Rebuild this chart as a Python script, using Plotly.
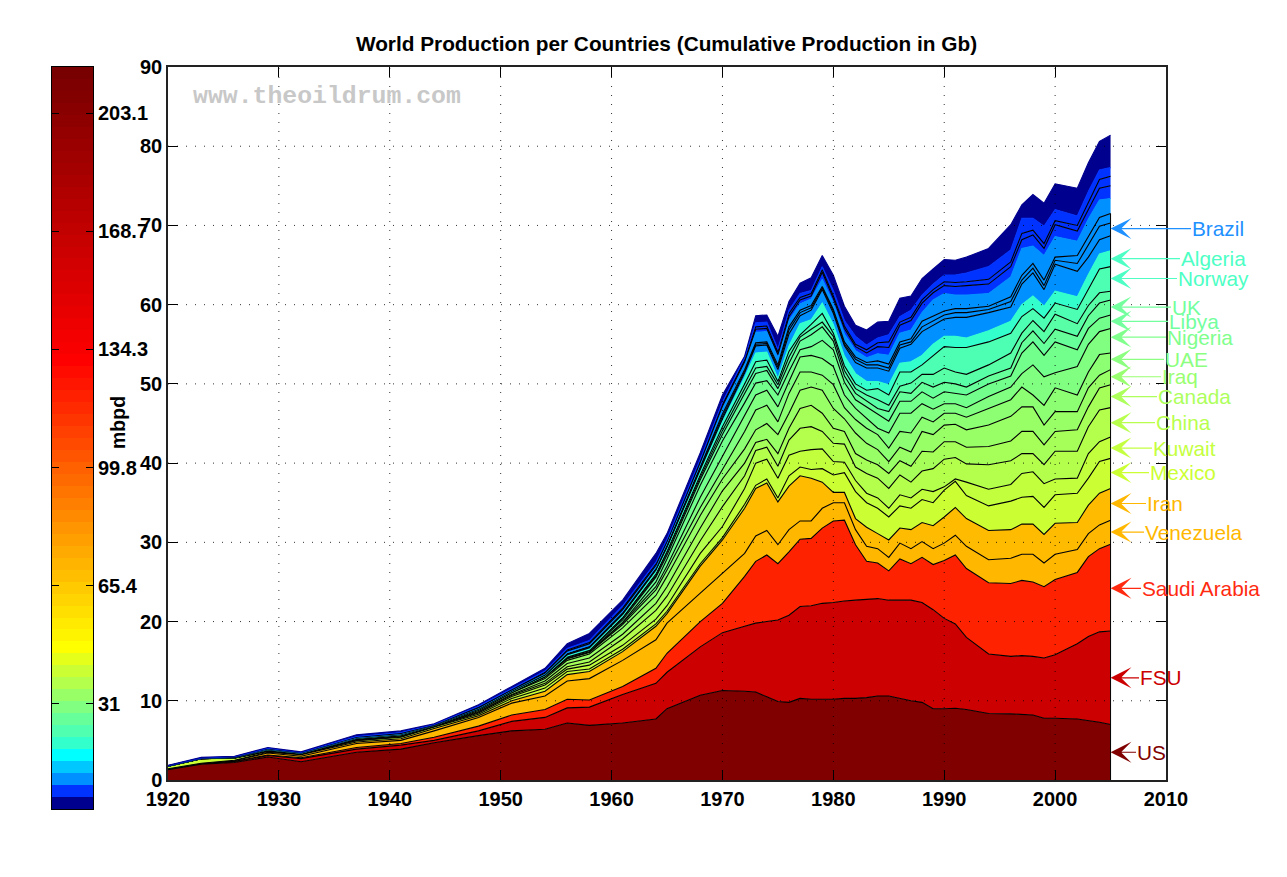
import plotly.graph_objects as go

W, H = 1287, 877

YEARS = [1920,1923,1926,1929,1932,1937,1941,1944,1948,1951,1954,1956,1958,1961,1964,1965,1968,1970,1972,1973,1974,1975,1976,1977,1978,1979,1980,1981,1982,1983,1984,1985,1986,1987,1988,1989,1990,1991,1992,1994,1996,1997,1998,1999,2000,2002,2003,2004,2005]

# Upper edge of each band in the stack (Gb)
US = [1.3,2.0,2.2,2.9,2.3,3.5,3.9,4.7,5.6,6.2,6.4,7.2,6.9,7.2,7.7,9.0,10.7,11.3,11.2,11.1,10.5,9.9,9.8,10.3,10.2,10.2,10.2,10.3,10.3,10.4,10.6,10.6,10.3,10.0,9.8,9.0,9.0,9.05,8.9,8.4,8.35,8.3,8.2,7.8,7.8,7.7,7.5,7.3,7.0]
FSU = [1.35,2.05,2.3,3.1,2.7,3.9,4.4,5.0,6.2,7.4,7.9,9.1,9.2,10.8,12.2,13.6,16.8,18.6,19.4,19.8,20.0,20.2,20.8,21.9,22.0,22.3,22.4,22.6,22.7,22.8,22.9,22.7,22.7,22.7,22.4,21.5,20.4,19.7,18.0,15.9,15.6,15.7,15.6,15.4,15.8,17.2,18.1,18.7,18.8]
SAUDI = [1.37,2.08,2.35,3.15,2.8,4.1,4.6,5.4,6.8,8.2,8.9,10.2,10.1,11.8,14.1,16,20,22.3,25.7,27.6,28.4,27.3,28.8,30.4,30.5,31.8,32.7,32.8,29.7,27.6,27.4,26.4,27.9,27.3,28.1,27.2,27.7,28.4,26.7,24.9,24.8,25.2,25.0,24.4,25.3,26.2,28.2,29.2,29.75]
VENEZUELA = [1.4,2.1,2.45,3.4,3.0,4.6,5.0,6.2,7.9,9.7,10.6,12.5,12.8,15.1,17.7,19.8,23.6,26.1,28.6,30.8,31.5,29.7,31.6,32.7,32.7,34.3,35,35,31.6,29.5,29.2,28.1,29.9,29.2,30.1,29.2,29.9,30.9,29.5,27.8,28,28.5,28.5,27.4,28.5,29.1,31.1,32.2,32.8]
IRAN = [1.42,2.12,2.5,3.5,3.2,4.8,5.2,6.5,8.1,10.0,11.2,13.3,13.7,16.2,19.4,21,27,30.3,34.3,36.8,37.5,35.1,37.1,38.4,38.1,37.6,36.3,36.3,33,31.9,31.1,30.3,31.8,31.6,32.5,32.1,33.2,34.4,33,31.5,31.6,32.3,32.3,31,32.4,32.5,34.7,36.2,36.8]
MEXICO = [1.72,2.68,2.75,3.6,3.25,4.95,5.4,6.7,8.3,10.3,11.6,13.7,14.0,16.5,19.7,21.3,27.3,30.6,34.8,37.2,38.0,35.6,38.4,39.5,39.2,39.3,38.5,38.8,36.4,35,34.3,33.2,34.6,34.3,35.4,35,36.6,37.7,35.9,34.6,35.2,35.7,35.8,34.4,36,36.2,38.1,40.2,40.6]
KUWAIT = [1.73,2.69,2.77,3.65,3.28,5.0,5.45,6.74,8.45,10.55,12,14,14.5,17,20.3,22,28.6,32,36.8,40,40.5,38.1,41,41.5,41.7,41.8,40.2,40.1,37.8,36.2,35.6,34.3,36,35.6,36.7,36.4,37,38,37.6,36.7,37.3,38.7,38.9,37.4,38,38.1,41.2,42.7,43.3]
CHINA = [1.74,2.69,2.78,3.68,3.3,5.05,5.5,6.76,8.55,10.7,12.2,14.3,14.9,17.8,21.4,23.2,30.2,34.5,38.4,41.6,42,39.6,42.9,44.4,44.6,44,42.5,42.4,39.5,38.7,38.1,36.8,38.5,37.6,39,39.3,40.5,40.7,39.9,39.8,40.3,41.2,41.2,39.8,41.5,41.5,44.6,46.7,47]
CANADA = [1.74,2.70,2.79,3.72,3.33,5.1,5.55,6.8,8.65,10.8,12.5,14.7,15.4,18.4,22.3,24.4,31.8,36.5,40,42.6,43,41.2,44.4,46.9,47.3,46.3,44.4,44,41.2,40.4,39.8,38.7,40.3,39.6,41.5,41.4,42.7,42.7,42,42.1,42.8,44,44,42.3,44,44.2,47.1,49.5,49.9]
IRAQ = [1.74,2.70,2.80,3.78,3.36,5.2,5.65,6.84,8.8,11,12.8,15.1,15.9,19.2,23.3,25.7,33.4,38,41.8,44.2,45,43.6,46.3,49.2,49.6,49.2,46.9,45.6,43.8,42.5,41.7,40.2,42,41.4,44,43.6,44.8,44.9,44.2,44.8,45.9,47.1,47.1,44.8,46.5,46.5,49.5,51.1,51.8]
UAE = [1.75,2.70,2.80,3.8,3.37,5.25,5.7,6.86,8.85,11.05,13,15.3,16.1,19.6,24,26.5,34.4,39.2,44,46.7,47.3,45.2,48.8,51.5,51.5,51.1,49.9,47.0,45.5,44.4,43.6,41.9,44,43.8,45.8,45.2,46.3,46.3,45.8,46.9,48,49.6,48.6,47.3,49.5,48.6,51.5,53.7,53.9]
NIGERIA = [1.75,2.70,2.80,3.8,3.37,5.25,5.7,6.86,8.86,11.08,13.03,15.35,16.15,19.8,24.4,27,35.7,40.8,46,48.6,49.2,47.1,50.3,53.4,53.6,53.2,52.2,48.6,46.9,45.6,44.4,43.8,46.3,46.3,47.5,46.8,47.5,47.5,47,48.4,49.6,51.3,52.4,50.9,51.4,52.2,55,56.6,57]
LIBYA = [1.75,2.71,2.81,3.81,3.38,5.26,5.71,6.87,8.87,11.1,13.06,15.4,16.2,19.9,25,27.9,37.2,42.8,47.6,50.1,50.4,48.6,51.6,54.3,54.7,55.5,54.3,50.2,48,47.1,46.1,45.3,47.8,47.8,49,48.2,49,48.8,48.6,50,51,53.9,55.3,53.6,55.3,54.3,57,58.3,58.7]
UK = [1.75,2.71,2.81,3.81,3.38,5.26,5.71,6.87,8.88,11.12,13.1,15.5,16.3,20.2,25.6,28.4,37.9,43.6,48.8,51.3,51.7,49.4,52.6,55.4,56.2,57.2,55.4,51,48.8,47.9,46.9,46.5,49,48.8,50.2,49.6,50.2,50,49.6,51,52,55.2,56.7,55.1,56.9,56,58.6,60.2,60.6]
OTHER_A = [1.75,2.71,2.81,3.82,3.38,5.27,5.72,6.88,8.89,11.14,13.13,15.55,16.4,20.4,25.8,28.7,38.2,44.1,49.4,52,52.2,49.9,53.4,55.9,56.9,57.8,56,51.7,49.4,48.6,48,47.3,49.7,50.1,51.2,51.2,52,51.5,51.2,52.4,53.9,56.4,58,56.6,58.8,57.6,59.9,61.5,61.7]
NORWAY = [1.75,2.71,2.81,3.82,3.38,5.27,5.72,6.88,8.9,11.16,13.15,15.6,16.45,20.5,26,28.9,38.5,44.6,50,52.8,53,50.3,54.1,56.2,57.5,58.9,56.4,52.3,50,49.2,49.4,48.6,51.5,51.5,52.4,53.5,54.7,54.6,54.6,55.3,56.4,58.5,59.5,58.3,60.2,59.4,61.9,64.5,64.8]
ALGERIA = [1.75,2.71,2.82,3.83,3.39,5.28,5.73,6.89,8.92,11.18,13.18,15.65,16.5,20.7,26.3,29.2,38.9,45.2,50.8,53.9,54,50.7,54.8,57.6,58.1,60.2,57.5,53.5,51.3,50.3,50.3,49.9,52.6,52.8,53.6,55,56,56,55.8,56.7,57.9,60,61.1,59.8,61.7,61,63.8,66.4,66.8]
OTHER_B = [1.76,2.72,2.83,3.85,3.4,5.3,5.76,6.9,8.95,11.22,13.25,15.8,16.7,20.9,26.5,29.4,39.2,45.6,51.4,54.8,54.9,51.8,56.3,58.6,59.3,61.9,58.9,54.8,52.7,52,52,51.6,54.5,55,56.6,57.4,58.2,58.4,58.4,59,59.7,62.6,64,61.9,65.1,64.2,66,68.2,68.7]
BRAZIL = [1.76,2.72,2.84,3.86,3.41,5.31,5.77,6.91,8.97,11.24,13.28,15.9,16.8,21,26.6,29.5,39.4,45.9,51.6,55,55.1,52.1,56.8,59,59.6,62.1,59.2,55,53.1,52.4,52.4,52,54.9,55.3,57.2,57.9,58.7,59,59,59.4,60.4,63.1,64.6,62.4,65.6,65.2,67.5,69.9,70.3]
OTHER_C = [1.76,2.72,2.85,3.87,3.42,5.32,5.78,6.92,8.99,11.26,13.3,15.95,16.85,21.1,26.7,29.6,39.5,46.2,51.8,55.2,55.3,52.4,57.2,59.3,59.9,62.3,59.4,55.3,53.4,52.7,52.9,52.5,55.3,55.7,57.9,58.5,59.2,59.5,59.5,59.8,61,63.7,65.2,63.1,66,66.2,68.6,71,71.5]
OTHER_D = [1.77,2.73,2.87,3.9,3.43,5.35,5.82,6.94,9.05,11.32,13.4,16.1,17,21.3,26.9,29.9,39.9,46.9,52.5,56.5,56.6,53.3,58,60.1,60.7,63.2,60.2,56.3,54.2,53.3,53.8,53.6,56.4,56.8,59,60.6,61.4,61.2,61.2,61.4,63.5,67.1,67.4,66.2,68.6,68,70.8,73.2,73.4]
OTHER_E = [1.78,2.75,2.89,3.94,3.44,5.4,5.88,6.96,9.12,11.4,13.5,16.3,17.2,21.5,27.1,30.1,40.1,47.2,52.8,56.9,57,53.7,58.5,60.6,61.1,64.1,60.8,57,54.7,53.9,54.7,54.6,57.4,58,60.2,61.5,62.4,62.3,62.4,62.6,64.8,68.2,68.8,67.1,70.1,69.3,72,74.7,75]
OTHER_F = [1.79,2.77,2.91,3.97,3.45,5.45,5.94,6.98,9.2,11.45,13.6,16.4,17.35,21.7,27.3,30.2,40.3,47.4,53,57.2,57.3,54,58.9,60.9,61.4,64.4,61.1,57.3,55,54.3,55.2,55.3,57.8,58.4,60.6,61.9,62.9,62.8,62.9,63.2,65.4,69,69.4,67.7,70.6,70,73,75.8,76.2]
OTHER_G = [1.80,2.79,2.93,4.0,3.47,5.5,6.0,7.0,9.3,11.55,13.75,16.6,17.6,22,27.5,30.4,40.5,47.7,53.3,57.7,57.8,54.4,59.3,61.4,61.8,64.8,61.8,58,56,54.9,55.8,56.2,58.5,59.3,61.2,62.6,63.75,63.75,64,64.8,66.9,70.9,70.9,69.9,72,71.2,74.3,77,77.3]
TOTAL = [1.85,2.85,3.0,4.1,3.55,5.7,6.2,7.1,9.5,11.8,14.1,17.2,18.5,22.7,28.6,31.1,41.3,48.6,53.5,58.6,58.7,56,60.4,62.7,63.4,66.2,63.7,59.8,57.4,56.8,57.8,57.9,60.8,61.1,63.3,64.5,65.7,65.6,66,67.1,70.1,72.6,73.9,72.8,75.25,74.7,77.9,80.6,81.4]

# band: (values, fill colour, black outline on its upper edge)
BANDS = [
    (US, "#800000", True), (FSU, "#cc0000", True), (SAUDI, "#ff2200", True),
    (VENEZUELA, "#ffb700", True), (IRAN, "#ffbb00", True), (MEXICO, "#ccff33", True),
    (KUWAIT, "#c2ff3d", True), (CHINA, "#b3ff4c", True), (CANADA, "#a6ff59", True),
    (IRAQ, "#99ff66", True), (UAE, "#8cff73", True), (NIGERIA, "#80ff80", True),
    (LIBYA, "#73ff8c", True), (UK, "#66ff99", True), (OTHER_A, "#59ffa6", True),
    (NORWAY, "#4cffb3", True), (ALGERIA, "#33ffcc", False), (OTHER_B, "#0090ff", True),
    (BRAZIL, "#0090ff", True), (OTHER_C, "#0090ff", True), (OTHER_D, "#0090ff", False),
    (OTHER_E, "#0033ff", True), (OTHER_F, "#0033ff", True), (OTHER_G, "#0033ff", False),
    (TOTAL, "#00008f", False),
]

LABELS = ["Brazil","Algeria","Norway","UK","Libya","Nigeria","UAE","Iraq","Canada","China","Kuwait","Mexico","Iran","Venezuela","Saudi Arabia","FSU","US"]
LABEL_Y = [69.6,65.8,63.3,59.7,57.9,55.9,53.1,50.9,48.4,45.1,41.9,38.8,34.9,31.3,24.2,12.9,3.5]
LABEL_LEFT = [1191,1180,1177,1171,1168,1166,1164,1161,1157,1155,1152,1149,1146,1144,1141,1139,1136]
LABEL_COLOR = ["#1e90ff","#4dffc4","#4dffc4","#73ff9e","#73ff9e","#80ff8c","#8cff80","#99ff70","#adff5c","#b8ff4d","#c4ff40","#ccff33","#ffb700","#ffb700","#ff2a10","#cc0000","#800000"]

CB_TICKS = [31, 65.4, 99.8, 134.3, 168.7, 203.1]
CB_LOW = 0.4
CB_HIGH = 216.5
CB_LOWER_COLORS = ["#00008f","#0033ff","#0090ff","#00c8ff","#00ffff","#33ffcc","#50ffaf","#66ff99","#80ff80","#99ff66","#b3ff4c","#ccff33","#e6ff1a","#ffff00"]

for i, (vals, _, _) in enumerate(BANDS):
    if len(vals) != len(YEARS):
        raise ValueError(f"band {i} has {len(vals)} values")

def rgbhex(r, g, b):
    return "#%02x%02x%02x" % (round(r), round(g), round(b))

cb_colors = list(CB_LOWER_COLORS)
for i in range(1, 25):
    cb_colors.append(rgbhex(255, 255 * (1 - i / 24), 0))
for i in range(1, 25):
    cb_colors.append(rgbhex(255 - 135 * i / 24, 0, 0))
n = len(cb_colors)
step = (CB_HIGH - CB_LOW) / n
cb_y = [CB_LOW + step * (i + 0.5) for i in range(n)]

FONT = "Liberation Sans"
fig = go.Figure()

for i, (vals, col, outlined) in enumerate(BANDS):
    fig.add_trace(go.Scatter(
        x=YEARS, y=vals, mode="lines",
        fill="tozeroy" if i == 0 else "tonexty",
        fillcolor=col,
        line=dict(color="#000000" if outlined else col, width=1.1),
        hoverinfo="skip", showlegend=False,
    ))

# dark right edge of the stack
fig.add_trace(go.Scatter(x=[YEARS[-1], YEARS[-1]], y=[0, OTHER_C[-1]], mode="lines",
                         line=dict(color="#000000", width=1), hoverinfo="skip", showlegend=False))

fig.add_trace(go.Heatmap(
    x=[0], y=cb_y, z=[[i] for i in range(n)],
    colorscale=[[i / (n - 1), c] for i, c in enumerate(cb_colors)],
    showscale=False, xaxis="x2", yaxis="y2", hoverinfo="skip",
))

shapes = []
GRID_X = [1930, 1940, 1950, 1960, 1970, 1980, 1990, 2000]
GRID_Y = [10, 20, 30, 40, 50, 60, 70, 80]
for gx in GRID_X:
    shapes.append(dict(type="line", xref="x", yref="y", x0=gx, x1=gx, y0=0, y1=90, layer="above",
                       line=dict(color="rgba(0,0,0,0.8)", width=1, dash="1px,8px")))
for gy in GRID_Y:
    shapes.append(dict(type="line", xref="x", yref="y", x0=1920, x1=2010, y0=gy, y1=gy, layer="above",
                       line=dict(color="rgba(0,0,0,0.8)", width=1, dash="1px,8px")))

annotations = []
X_2005 = YEARS[-1]
PX_PER_YEAR = (1166 - 168) / 90
for name, yv, left, col in zip(LABELS, LABEL_Y, LABEL_LEFT, LABEL_COLOR):
    tip_px = 168 + (X_2005 - 1920) * PX_PER_YEAR
    annotations.append(dict(
        x=X_2005, y=yv, xref="x", yref="y", axref="pixel", ayref="pixel",
        ax=left - tip_px, ay=0, text=name, xanchor="left", yanchor="middle",
        showarrow=True, arrowhead=3, arrowsize=2.9, arrowwidth=1.2, arrowcolor=col,
        standoff=0, startstandoff=0, borderpad=0,
        font=dict(family=FONT, size=20.8, color=col),
    ))
annotations.append(dict(x=118 / W, y=1 - 423 / H, xref="paper", yref="paper", text="mbpd", textangle=-90,
                        xanchor="center", yanchor="middle", showarrow=False,
                        font=dict(family=FONT, size=19.5, color="#000", weight=700)))
annotations.append(dict(x=191 / W, y=1 - 96 / H, xref="paper", yref="paper", xanchor="left", yanchor="middle",
                        text="www.theoildrum.com", showarrow=False,
                        font=dict(family="Liberation Mono", size=24.8, color="#c8c8c8", weight=700)))

tickfont = dict(family=FONT, size=20, color="#000", weight=700)
fig.update_layout(
    width=W, height=H, autosize=False,
    margin=dict(l=0, r=0, t=0, b=0),
    paper_bgcolor="white", plot_bgcolor="white",
    title=dict(text="World Production per Countries (Cumulative Production in Gb)",
               x=666.5 / W, xanchor="center", y=1 - 44 / H, yanchor="middle",
               font=dict(family=FONT, size=20.8, color="#000", weight=700)),
    xaxis=dict(domain=[168 / W, 1166 / W], range=[1920, 2010], tick0=1920, dtick=10, automargin=False,
               showgrid=False, zeroline=False, showline=True, linecolor="#222", linewidth=1.5, mirror="ticks",
               ticks="inside", ticklen=10, tickcolor="#000", tickwidth=1, tickfont=tickfont),
    yaxis=dict(domain=[1 - 780 / H, 1 - 67 / H], range=[0, 90], tick0=0, dtick=10, automargin=False,
               showgrid=False, zeroline=False, showline=True, linecolor="#222", linewidth=1.5, mirror="ticks",
               ticks="inside", ticklen=10, tickcolor="#000", tickwidth=1, tickfont=tickfont),
    xaxis2=dict(domain=[52 / W, 93 / W], range=[-0.5, 0.5], anchor="y2", showticklabels=False, ticks="", automargin=False,
                showgrid=False, zeroline=False, showline=True, linecolor="#000", linewidth=1, mirror=True),
    yaxis2=dict(domain=[1 - 809 / H, 1 - 67 / H], range=[CB_LOW, CB_HIGH], anchor="x2", side="right", automargin=False,
                tickvals=CB_TICKS, ticktext=[str(v) for v in CB_TICKS],
                ticks="inside", ticklen=7, tickcolor="#000", tickwidth=1, tickfont=tickfont,
                showgrid=False, zeroline=False, showline=True, linecolor="#000", linewidth=1, mirror="ticks"),
    shapes=shapes, annotations=annotations,
)

fig.write_html("out.html", config={"displayModeBar": False}, post_script="document.body.style.margin='0';")
